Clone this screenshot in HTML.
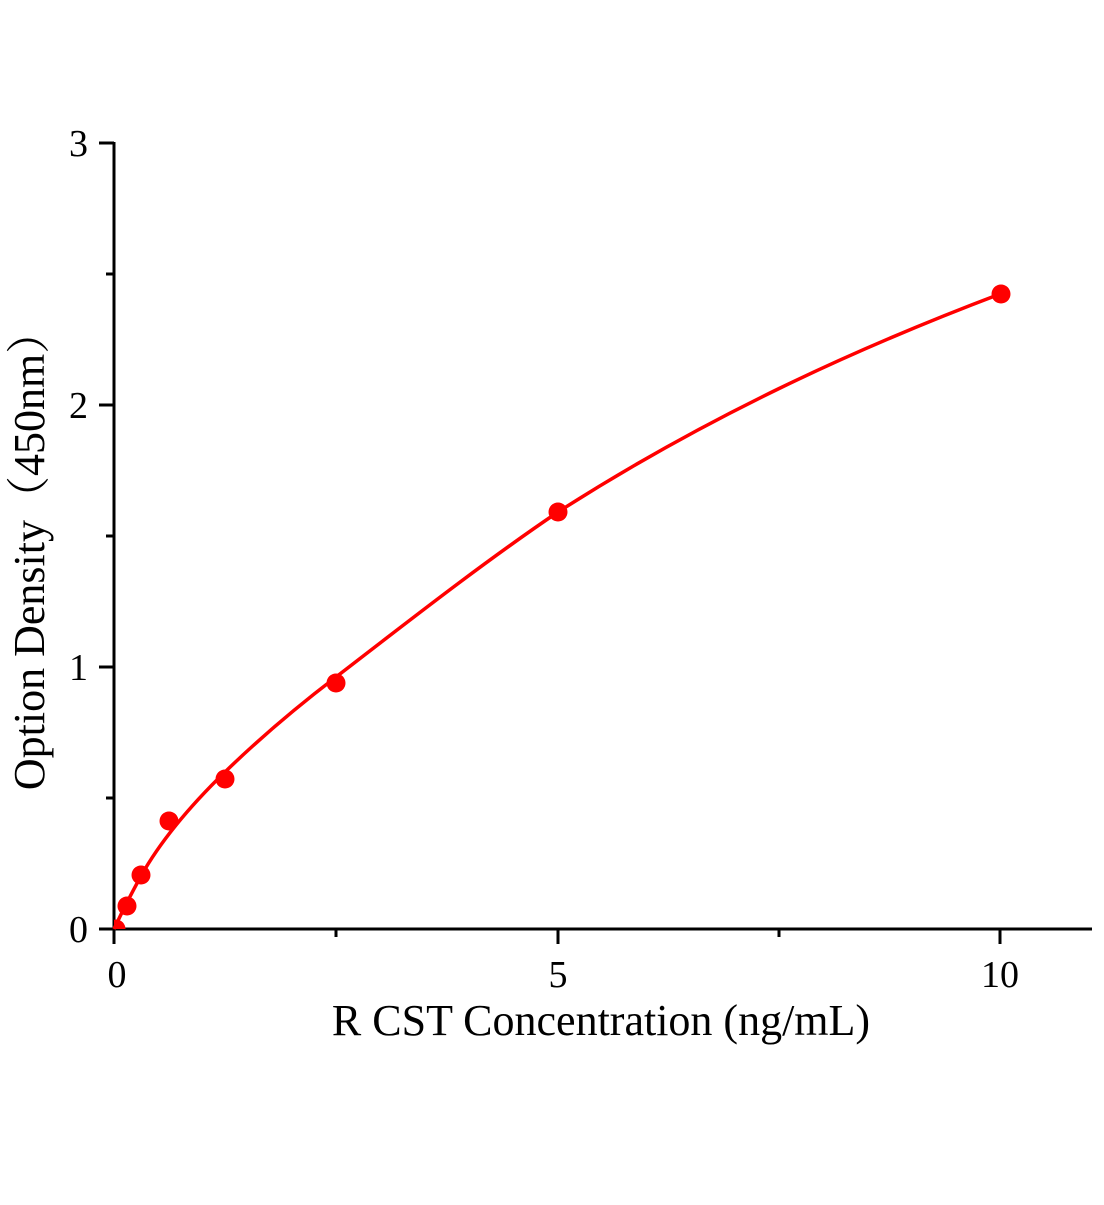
<!DOCTYPE html>
<html><head><meta charset="utf-8"><style>body{margin:0;background:#fff}</style></head>
<body>
<svg width="1104" height="1200" xmlns="http://www.w3.org/2000/svg" font-family="Liberation Serif, 'Noto Serif CJK SC', serif">
<rect width="1104" height="1200" fill="#fff"/>
<clipPath id="c"><rect x="114" y="100" width="990" height="829"/></clipPath>
<g stroke="#000" stroke-width="3" fill="none">
<line x1="114" y1="142" x2="114" y2="931"/>
<line x1="112" y1="929" x2="1092" y2="929"/>
<line x1="99" y1="143" x2="114" y2="143"/>
<line x1="99" y1="405" x2="114" y2="405"/>
<line x1="99" y1="667" x2="114" y2="667"/>
<line x1="99" y1="929" x2="114" y2="929"/>
<line x1="106" y1="274" x2="114" y2="274"/>
<line x1="106" y1="536" x2="114" y2="536"/>
<line x1="106" y1="798" x2="114" y2="798"/>
<line x1="114" y1="929" x2="114" y2="944"/>
<line x1="558" y1="929" x2="558" y2="944"/>
<line x1="1000" y1="929" x2="1000" y2="944"/>
<line x1="336" y1="929" x2="336" y2="937"/>
<line x1="779" y1="929" x2="779" y2="937"/>
</g>
<g font-size="38" fill="#000">
<text x="88" y="156" text-anchor="end">3</text>
<text x="88" y="418" text-anchor="end">2</text>
<text x="88" y="680" text-anchor="end">1</text>
<text x="88" y="942" text-anchor="end">0</text>
<text x="117" y="987" text-anchor="middle">0</text>
<text x="558" y="987" text-anchor="middle">5</text>
<text x="1000" y="987" text-anchor="middle">10</text>
</g>
<text x="601" y="1035" font-size="44" text-anchor="middle">R CST Concentration (ng/mL)</text>
<text transform="translate(44,550) rotate(-90)" font-size="44" text-anchor="middle">Option Density（450nm）</text>
<path fill="none" stroke="#f00" stroke-width="3.5" d="M114,929 C122,912 130,896 141,876 C160,842 190,806 225,772 C262,736 298,706 336,677 C410,620 484,562 558,512 C705,418 852,350 1000,294"/>
<g fill="#f00">
<circle cx="116" cy="929" r="9.5" clip-path="url(#c)"/>
<circle cx="127" cy="906" r="9.5"/>
<circle cx="141" cy="875" r="9.5"/>
<circle cx="169" cy="821" r="9.5"/>
<circle cx="225" cy="779" r="9.5"/>
<circle cx="336" cy="683" r="9.5"/>
<circle cx="558" cy="512" r="9.5"/>
<circle cx="1001" cy="294" r="9.5"/>
</g>
</svg>
</body></html>
